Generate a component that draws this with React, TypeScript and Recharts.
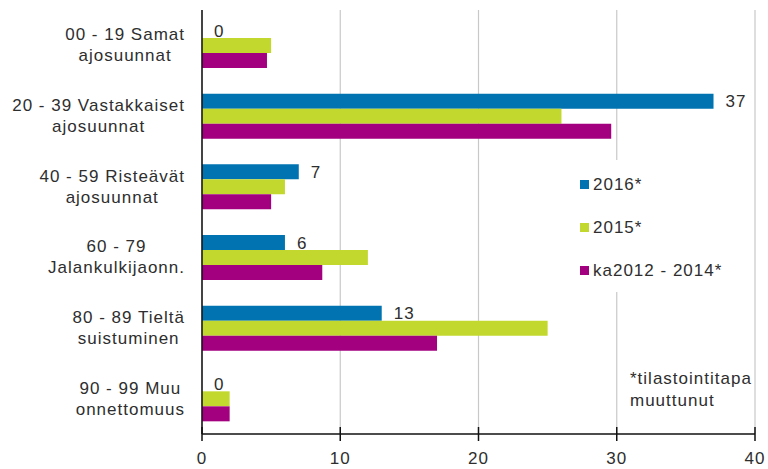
import React from 'react';
import { BarChart, Bar, XAxis, YAxis, CartesianGrid, LabelList, Legend, Customized } from 'recharts';

const categories = [
  '00 - 19 Samat\najosuunnat',
  '20 - 39 Vastakkaiset\najosuunnat',
  '40 - 59 Risteävät\najosuunnat',
  '60 - 79\nJalankulkijaonn.',
  '80 - 89 Tieltä\nsuistuminen',
  '90 - 99 Muu\nonnettomuus',
];
const values2016 = [0, 37, 7, 6, 13, 0];
const values2015 = [5, 26, 6, 12, 25, 2];
const valuesAvg = [4.7, 29.6, 5, 8.7, 17, 2];
const seriesNames = ['2016*', '2015*', 'ka2012 - 2014*'];
const seriesColors = ['#0073B0', '#C2D82F', '#A3007F'];
const xTicks = [0, 10, 20, 30, 40];
const footnote = ['*tilastointitapa', 'muuttunut'];

const data = categories.map((c, i) => ({
  name: c,
  s2016: values2016[i],
  s2015: values2015[i],
  avg: valuesAvg[i],
}));

const CHART_W = 768;
const CHART_H = 469;
const X_AXIS_H = 35;
const Y_AXIS_W = 202;
const AXIS_Y = CHART_H - X_AXIS_H;

const FONT = "'Liberation Sans', Arial, sans-serif";
const TEXT = '#2e2e2e';
const FS = 17;
const LS = 1;

let ctx: CanvasRenderingContext2D | null = null;
function measure(t: string): number {
  if (!ctx) ctx = document.createElement('canvas').getContext('2d');
  if (!ctx) return t.length * 9;
  ctx.font = `${FS}px ${FONT}`;
  return ctx.measureText(t).width + t.length * LS;
}

const YTick = (props: any) => {
  const { y, payload } = props;
  const lines = String(payload.value).split('\n');
  const maxW = Math.max(...lines.map(measure));
  const cx = Y_AXIS_W - 17 - maxW / 2;
  return (
    <g>
      {lines.map((l, i) => (
        <text key={i} x={cx} y={y - 5 + i * 21} textAnchor="middle" fill={TEXT}
          fontSize={FS} fontFamily={FONT} letterSpacing={LS}>{l}</text>
      ))}
    </g>
  );
};

const XTick = (props: any) => {
  const { x, payload } = props;
  return (
    <g>
      <line x1={x} x2={x} y1={AXIS_Y - 7} y2={AXIS_Y + 7} stroke="#111" strokeWidth={1.5} />
      <text x={x} y={AXIS_Y + 30} textAnchor="middle" fill={TEXT} fontSize={FS}
        fontFamily={FONT} letterSpacing={LS}>{payload.value}</text>
    </g>
  );
};

const ValueLabel = (props: any) => {
  const { x, y, width, height, value } = props;
  if (x == null || y == null) return null;
  return (
    <text x={Number(x) + Number(width || 0) + 12} y={Number(y) + Number(height || 0) / 2 + 6}
      fill={TEXT} fontSize={FS} fontFamily={FONT} letterSpacing={LS}>{String(value)}</text>
  );
};

const LegendBox = () => (
  <div style={{ background: '#fff', width: 170, height: 132 }}>
    <svg width={170} height={132} style={{ display: 'block' }}>
      {seriesNames.map((n, i) => (
        <g key={n}>
          <rect x={8} y={20 + i * 43} width={9} height={9} fill={seriesColors[i]} />
          <text x={21} y={29.5 + i * 43} fill={TEXT} fontSize={FS} fontFamily={FONT}
            letterSpacing={LS}>{n}</text>
        </g>
      ))}
    </svg>
  </div>
);

const Footnote = () => (
  <g>
    {footnote.map((t, i) => (
      <text key={i} x={630} y={384 + i * 22} fill={TEXT} fontSize={FS} fontFamily={FONT}
        letterSpacing={LS}>{t}</text>
    ))}
  </g>
);

export default function App() {
  return (
    <div style={{ position: 'absolute', left: 0, top: 0, width: CHART_W, height: CHART_H, background: '#fff', overflow: 'hidden' }}>
      <BarChart
        width={CHART_W}
        height={CHART_H}
        data={data}
        layout="vertical"
        margin={{ top: 10, right: 13, bottom: 0, left: 0 }}
        barSize={15}
        barGap={0}
      >
        <CartesianGrid horizontal={false} stroke="#c8c8c8" strokeWidth={1.2} />
        <XAxis
          type="number"
          domain={[0, 40]}
          ticks={xTicks}
          height={X_AXIS_H}
          tickSize={6}
          tickMargin={0}
          tickLine={false}
          axisLine={{ stroke: '#111', strokeWidth: 1.5 }}
          tick={<XTick />}
          interval={0}
        />
        <YAxis
          type="category"
          dataKey="name"
          width={Y_AXIS_W}
          tickSize={6}
          tickMargin={0}
          tickLine={false}
          axisLine={{ stroke: '#111', strokeWidth: 1.5 }}
          tick={<YTick />}
          interval={0}
        />
        <Bar dataKey="s2016" name={seriesNames[0]} fill={seriesColors[0]} minPointSize={0.01}
          isAnimationActive={false}>
          <LabelList dataKey="s2016" content={<ValueLabel />} />
        </Bar>
        <Bar dataKey="s2015" name={seriesNames[1]} fill={seriesColors[1]} isAnimationActive={false} />
        <Bar dataKey="avg" name={seriesNames[2]} fill={seriesColors[2]} isAnimationActive={false} />
        <Legend
          layout="horizontal"
          align="center"
          verticalAlign="middle"
          wrapperStyle={{ left: 572, top: 160, width: 170, height: 132, right: 'auto', bottom: 'auto' }}
          content={<LegendBox />}
        />
        <Customized component={<Footnote />} />
      </BarChart>
    </div>
  );
}
